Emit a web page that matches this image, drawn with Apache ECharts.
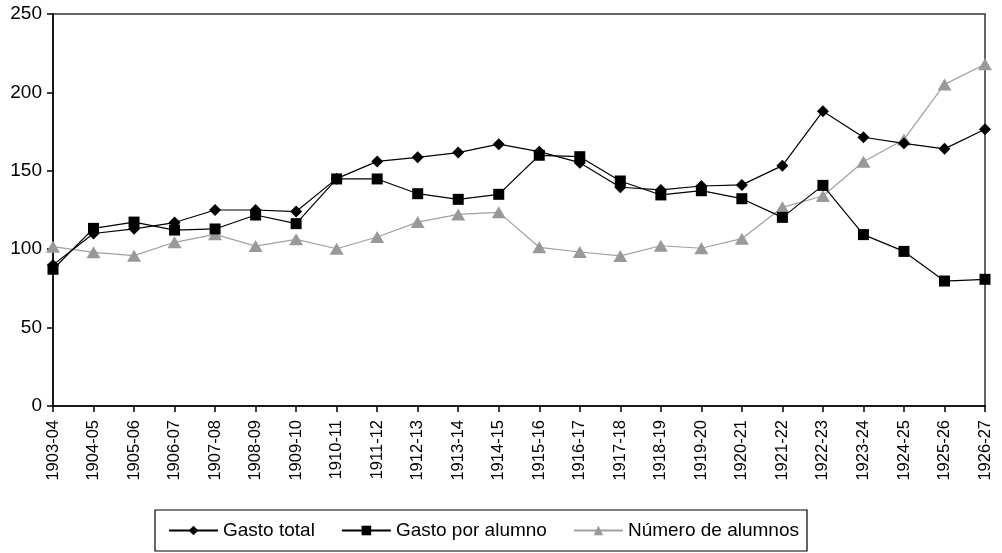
<!DOCTYPE html>
<html><head><meta charset="utf-8">
<script src="https://cdn.jsdelivr.net/npm/echarts@6/dist/echarts.min.js"></script>
<style>html,body{margin:0;padding:0;background:#fff}#c{width:1002px;height:553px}</style>
</head><body><div id="c"></div>
<script>
const categories = ["1903-04","1904-05","1905-06","1906-07","1907-08","1908-09","1909-10","1910-11","1911-12","1912-13","1913-14","1914-15","1915-16","1916-17","1917-18","1918-19","1919-20","1920-21","1921-22","1922-23","1923-24","1924-25","1925-26","1926-27"];
const gastoTotal = [90,110,113,117,125,125,124,145,156,158.6,161.6,167,162.2,155.2,139.5,137.8,140.3,141,153.3,188,171.4,167.5,164,176.5];
const gastoPorAlumno = [87.2,113.3,117.3,112.2,112.9,121.8,116.3,144.8,144.8,135.4,131.8,135,159.9,159,143.5,134.6,137.3,132.2,120.3,140.7,109.3,98.6,79.7,80.8];
const numeroAlumnos = [101.6,98,95.9,104.4,109.5,102,106.3,100.3,107.8,117.3,122.2,123.5,101.2,98.2,95.7,102.2,100.6,106.7,126.7,133.9,155.8,170,205.1,217.9];
const yTicks = [0,50,100,150,200,250];

const chart = echarts.init(document.getElementById('c'));
const font = 'Liberation Sans, Arial, sans-serif';
chart.setOption({
  animation:false,
  grid:{left:53,right:17,top:14,bottom:147,show:true,borderColor:'#333',borderWidth:1.5,backgroundColor:'transparent'},
  xAxis:{type:'category',data:categories,boundaryGap:false,
    axisLine:{lineStyle:{color:'#000',width:1.5}},
    axisTick:{show:true,alignWithLabel:true,length:6,lineStyle:{color:'#000',width:1.5}},
    axisLabel:{rotate:90,color:'#000',fontFamily:font,fontSize:16.5,margin:14,interval:0}},
  yAxis:{type:'value',min:yTicks[0],max:yTicks[yTicks.length-1],interval:50,
    axisLine:{show:true,lineStyle:{color:'#000',width:1.5}},
    axisTick:{show:true,length:6,lineStyle:{color:'#000',width:1.5}},
    splitLine:{show:false},
    axisLabel:{color:'#000',fontFamily:font,fontSize:19,margin:11}},
  legend:{bottom:2,left:155,itemWidth:49,itemHeight:12,itemGap:26,
    borderColor:'#000',borderWidth:1.2,padding:[11,8,11,13],
    textStyle:{color:'#000',fontFamily:font,fontSize:19},
    data:['Gasto total','Gasto por alumno','Número de alumnos']},
  series:[
    {name:'Gasto total',type:'line',data:gastoTotal,symbol:'diamond',symbolSize:12,
      lineStyle:{color:'#000',width:1.2},itemStyle:{color:'#000'},z:3},
    {name:'Gasto por alumno',type:'line',data:gastoPorAlumno,symbol:'rect',symbolSize:11,
      lineStyle:{color:'#000',width:1.2},itemStyle:{color:'#000'},z:2},
    {name:'Número de alumnos',type:'line',data:numeroAlumnos,symbol:'triangle',symbolSize:[14,12],
      lineStyle:{color:'#a0a0a0',width:1.2},itemStyle:{color:'#999'},z:1}
  ]
});
</script></body></html>
